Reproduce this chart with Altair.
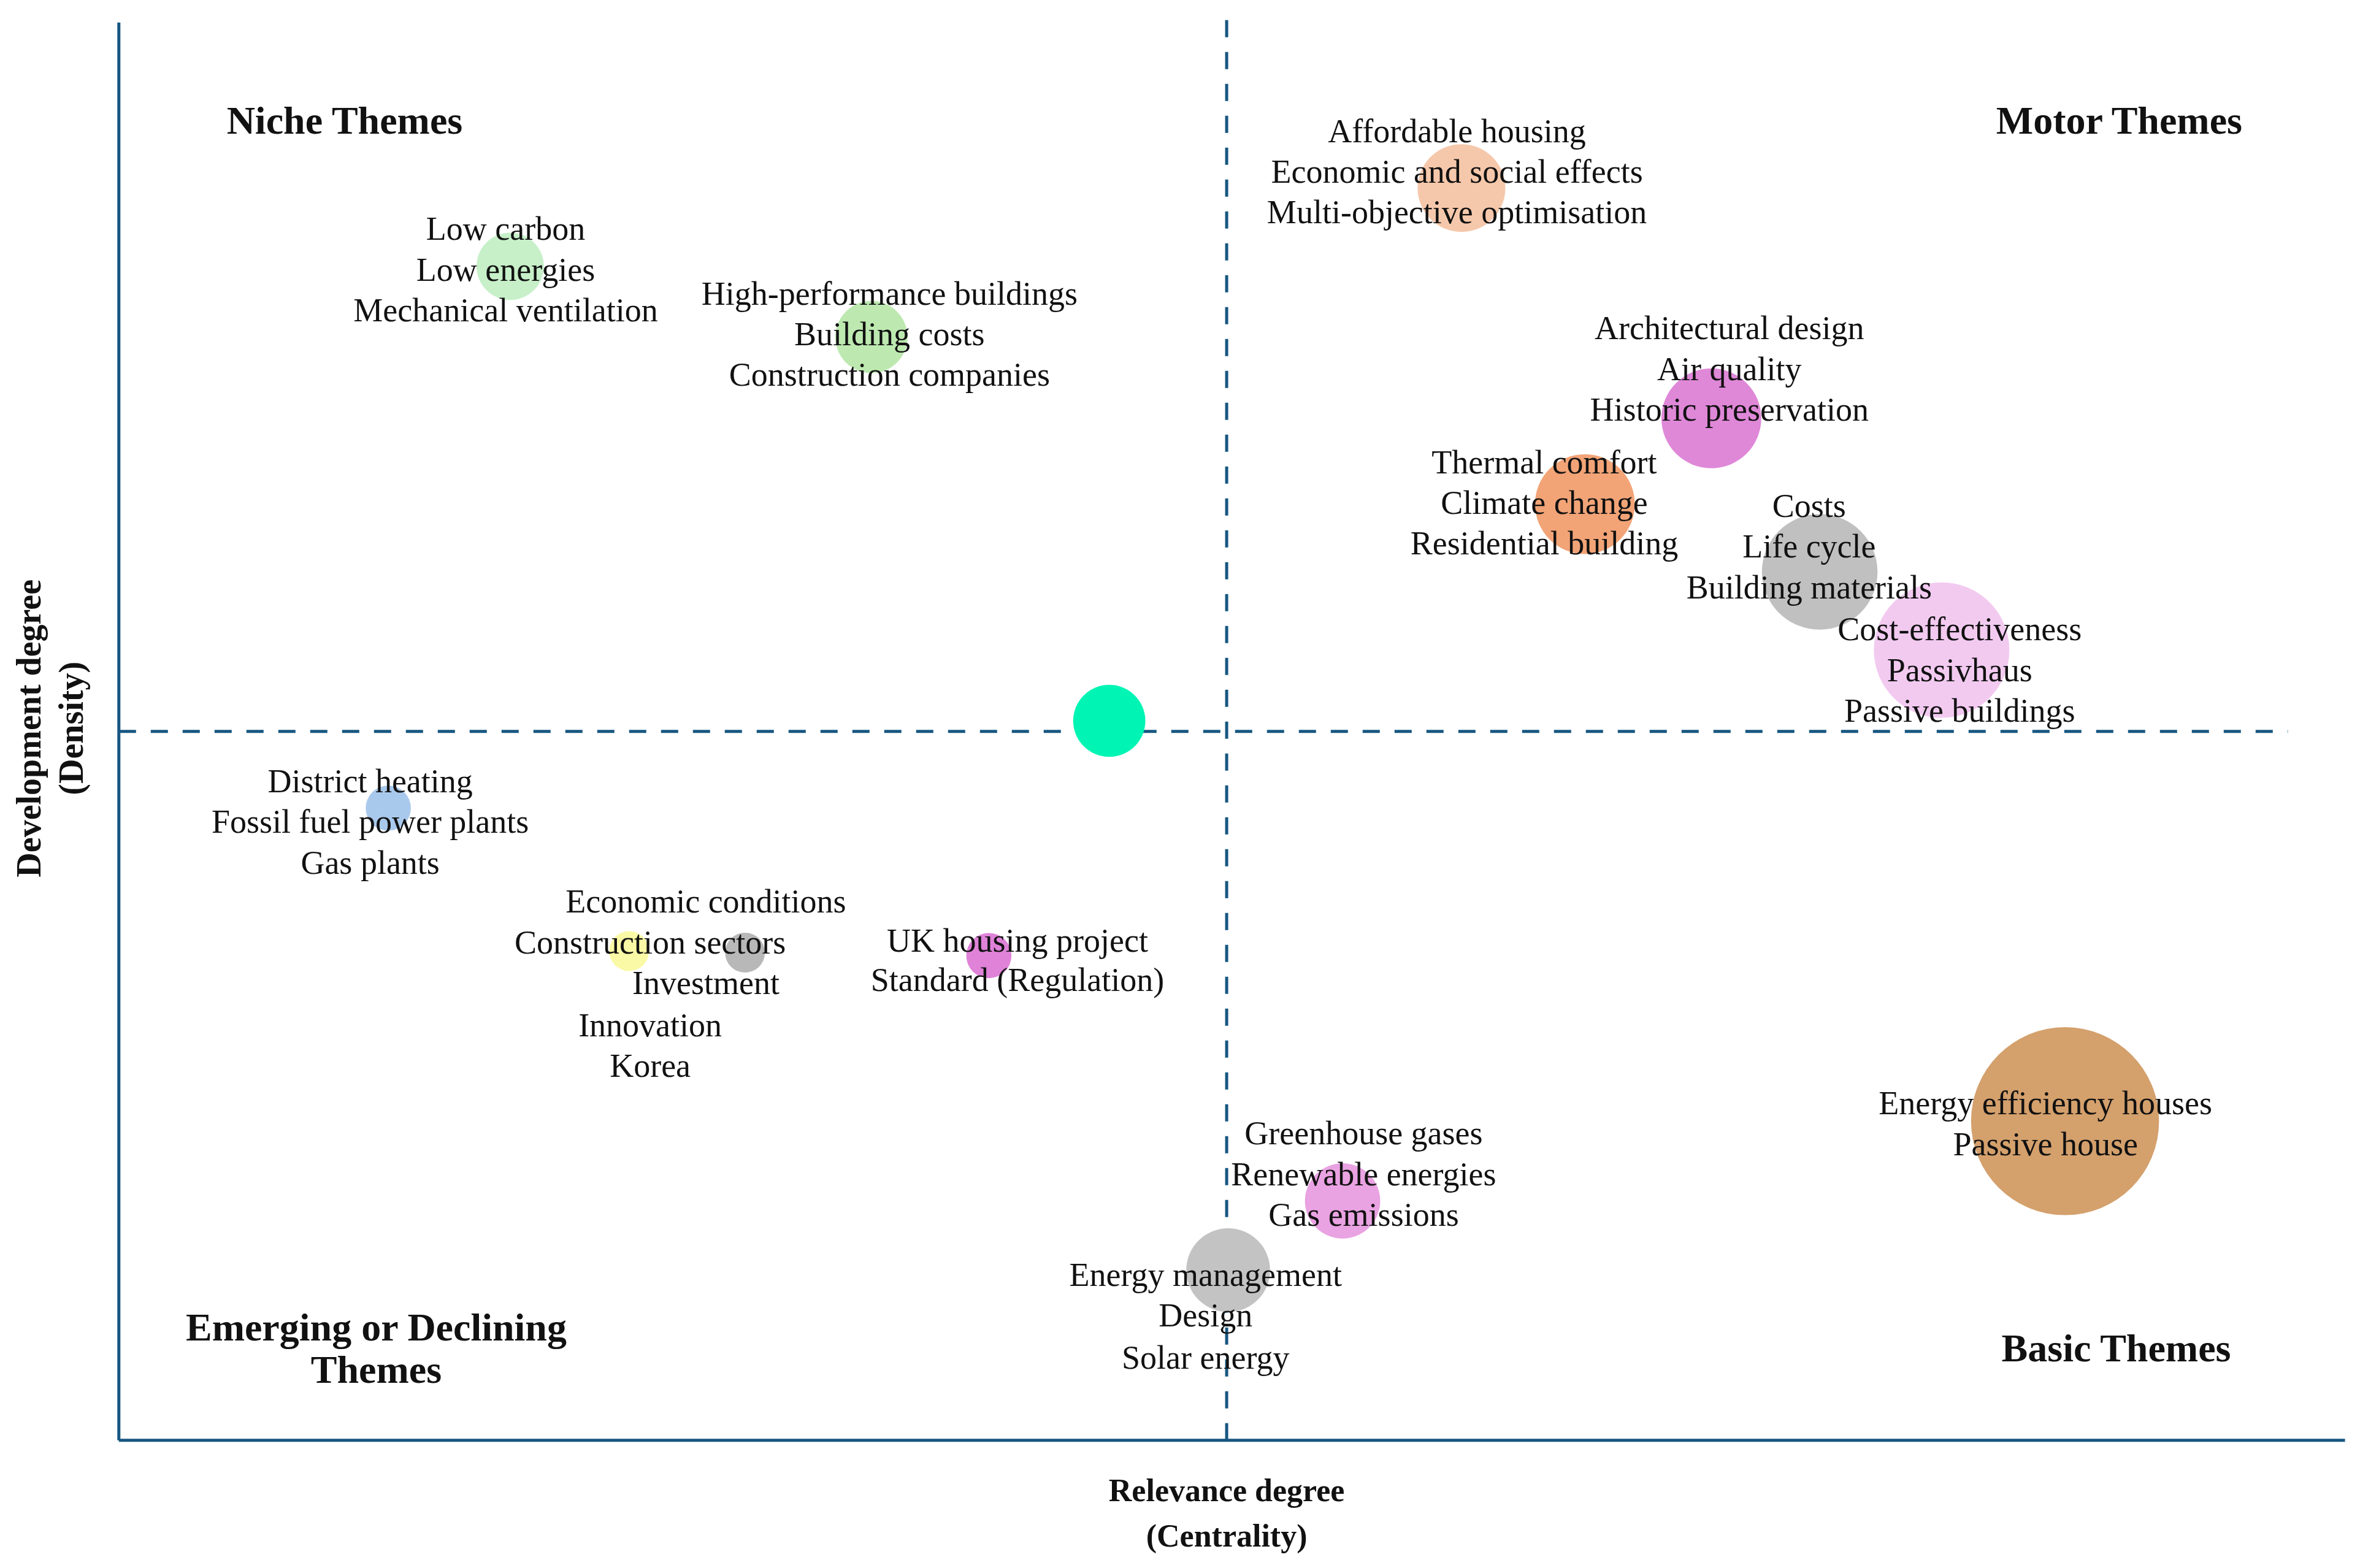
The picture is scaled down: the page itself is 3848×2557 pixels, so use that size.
import altair as alt
import pandas as pd

# ---------------- data ----------------
# thematic clusters (centrality, density, weight)
clusters = ["Low carbon", "High-performance buildings", "Affordable housing",
            "Architectural design", "Thermal comfort", "Costs", "Cost-effectiveness",
            "Unlabelled", "District heating", "Construction sectors", "Economic conditions",
            "UK housing project", "Energy efficiency houses", "Greenhouse gases",
            "Energy management"]
centrality = [260, 500, 892, 1058, 974, 1130, 1211, 658, 179, 339, 416, 578, 1293, 813, 737]
density = [780, 733, 832, 679, 622, 577, 525, 478, 420, 325, 324, 322, 212, 159, 113]
weight = [20, 23, 34, 44, 44, 59, 81, 23, 9, 7, 7, 9, 156, 25, 31]
palette = ["#c7f0c9", "#bde9b0", "#f6c8ab", "#df88d8", "#f2a477", "#c0c0c0", "#f2caf0",
           "#00f5b4", "#a9c9ec", "#fafaa6", "#b8b8b8", "#df82d8", "#d4a06c", "#e9a2e2",
           "#c3c3c3"]

# keyword labels
labels = ["Low carbon", "Low energies", "Mechanical ventilation",
          "High-performance buildings", "Building costs", "Construction companies",
          "Affordable housing", "Economic and social effects", "Multi-objective optimisation",
          "Architectural design", "Air quality", "Historic preservation",
          "Thermal comfort", "Climate change", "Residential building",
          "Costs", "Life cycle", "Building materials",
          "Cost-effectiveness", "Passivhaus", "Passive buildings",
          "District heating", "Fossil fuel power plants", "Gas plants",
          "Economic conditions", "Construction sectors", "Investment", "Innovation", "Korea",
          "UK housing project", "Standard (Regulation)",
          "Energy efficiency houses", "Passive house",
          "Greenhouse gases", "Renewable energies", "Gas emissions",
          "Energy management", "Design", "Solar energy"]
label_x = [257, 257, 257, 512, 512, 512, 889, 889, 889, 1070, 1070, 1070,
           947, 947, 947, 1123, 1123, 1123, 1223, 1223, 1223, 167, 167, 167,
           390, 353, 390, 353, 353, 597, 597, 1280, 1280, 827, 827, 827, 722, 722, 722]
label_y = [804, 777, 750, 761, 734, 707, 869, 842, 815, 738, 711, 684,
           649, 622, 595, 620, 593, 566, 538, 511, 484, 437, 410, 383,
           357, 330, 303, 275, 248, 331, 305, 223, 196, 203, 176, 149, 109, 82, 54]

# quadrant names
quad_text = ["Niche Themes", "Motor Themes", "Emerging or Declining", "Themes", "Basic Themes"]
quad_x = [150, 1329, 171, 171, 1327]
quad_y = [876, 876, 74, 46, 60]

# axis titles
xtitle_text = ["Relevance degree", "(Centrality)"]
xtitle_x = [736, 736]
xtitle_y = [-34, -64]
ytitle_text = ["Development degree", "(Density)"]
ytitle_x = [-59, -31]
ytitle_y = [473, 473]

# axes (origin) and quadrant thresholds
axis_x = [0, 0]
axis_x2 = [0, 1479]
axis_y = [0, 0]
axis_y2 = [942, 0]
thr_x = [736, 0]
thr_x2 = [736, 1441]
thr_y = [0, 471]
thr_y2 = [947, 471]

# ---------------- chart ----------------
W, H = 3832, 2536
xs = alt.Scale(domain=[-75.7, 1485.7], nice=False, zero=False)
ys = alt.Scale(domain=[-79.6, 953.7], nice=False, zero=False)
LINE = "#175781"
SERIF = "Liberation Serif"

df_b = pd.DataFrame({"cluster": clusters, "x": centrality, "y": density, "w": weight})
df_l = pd.DataFrame({"t": labels, "x": label_x, "y": label_y})
df_q = pd.DataFrame({"t": quad_text, "x": quad_x, "y": quad_y})
df_xt = pd.DataFrame({"t": xtitle_text, "x": xtitle_x, "y": xtitle_y})
df_yt = pd.DataFrame({"t": ytitle_text, "x": ytitle_x, "y": ytitle_y})
df_ax = pd.DataFrame({"x": axis_x, "x2": axis_x2, "y": axis_y, "y2": axis_y2})
df_th = pd.DataFrame({"x": thr_x, "x2": thr_x2, "y": thr_y, "y2": thr_y2})

X = lambda f="x": alt.X(f"{f}:Q", scale=xs, axis=None)
Y = lambda f="y": alt.Y(f"{f}:Q", scale=ys, axis=None)

axes = alt.Chart(df_ax).mark_rule(color=LINE, strokeWidth=5).encode(
    x=X(), x2="x2:Q", y=Y(), y2="y2:Q")
thresholds = alt.Chart(df_th).mark_rule(color=LINE, strokeWidth=5, strokeDash=[28, 24]).encode(
    x=X(), x2="x2:Q", y=Y(), y2="y2:Q")

bubbles = alt.Chart(df_b).mark_circle(opacity=1).encode(
    x=X(), y=Y(),
    size=alt.Size("w:Q", scale=alt.Scale(domain=[0, 156], range=[0, 93960]), legend=None),
    color=alt.Color("cluster:N", scale=alt.Scale(domain=clusters, range=palette), legend=None),
)

kw = alt.Chart(df_l).mark_text(font=SERIF, fontSize=54, color="#111111",
                               align="center", baseline="middle").encode(
    x=X(), y=Y(), text="t:N")

quad = alt.Chart(df_q).mark_text(font=SERIF, fontSize=64, fontWeight="bold", color="#111111",
                                 align="center", baseline="middle").encode(
    x=X(), y=Y(), text="t:N")

xt = alt.Chart(df_xt).mark_text(font=SERIF, fontSize=52, fontWeight="bold", color="#111111",
                                align="center", baseline="middle").encode(
    x=X(), y=Y(), text="t:N")

yt = alt.Chart(df_yt).mark_text(font=SERIF, fontSize=56, fontWeight="bold", color="#111111",
                                align="center", baseline="middle", angle=270).encode(
    x=X(), y=Y(), text="t:N")

chart = alt.layer(axes, thresholds, bubbles, kw, quad, xt, yt).properties(
    width=W, height=H,
    autosize=alt.AutoSizeParams(type="none"),
    padding=0,
    background="white",
).configure_view(stroke=None)

chart.save("out.html", embed_options={"renderer": "svg", "actions": False})
